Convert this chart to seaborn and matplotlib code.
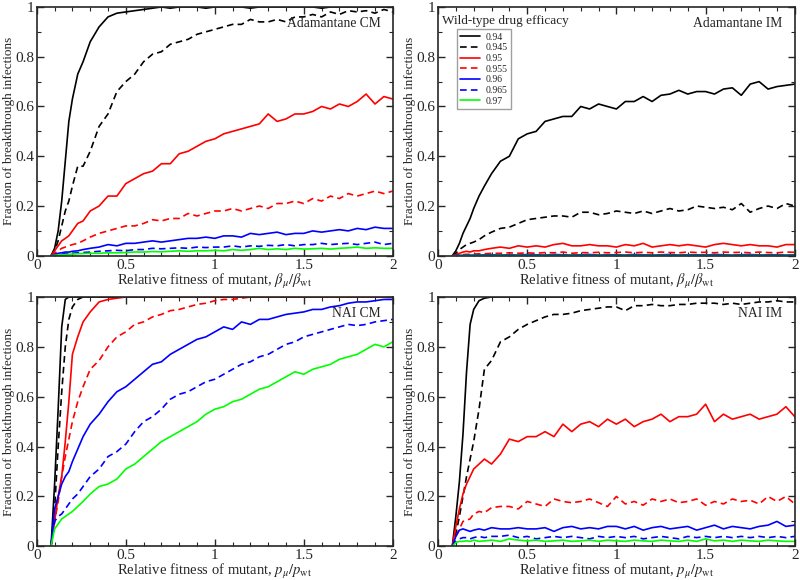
import matplotlib
matplotlib.use("Agg")
import matplotlib.pyplot as plt
from matplotlib.ticker import MultipleLocator, FormatStrFormatter
import seaborn as sns
import pandas as pd

# relative fitness grid (shared by all panels)
fitness = [0.08, 0.10, 0.12, 0.14, 0.16, 0.18, 0.20, 0.23, 0.26, 0.30, 0.35,
           0.40, 0.45, 0.50, 0.55, 0.60, 0.65, 0.70, 0.75, 0.80, 0.85, 0.90, 0.95, 1.00,
           1.05, 1.10, 1.15, 1.20, 1.25, 1.30, 1.35, 1.40, 1.45, 1.50,
           1.55, 1.60, 1.65, 1.70, 1.75, 1.80, 1.85, 1.90, 1.95, 2.00]

efficacy = ["0.94", "0.945", "0.95", "0.955", "0.96", "0.965", "0.97"]

# Adamantane CM
adam_cm_94 = [0.0, 0.03, 0.10, 0.22, 0.38, 0.54, 0.63, 0.73, 0.78, 0.86, 0.92,
              0.96, 0.975, 0.98, 0.985, 0.99, 0.995, 1.0, 0.995, 1.0, 1.0, 1.0, 0.995, 1.0,
              1.0, 1.0, 1.0, 0.995, 1.0, 1.0, 1.0, 1.0, 1.0, 1.0,
              1.0, 0.995, 1.0, 1.0, 1.0, 1.0, 1.0, 1.0, 1.0, 1.0]
adam_cm_945 = [0.0, 0.02, 0.06, 0.12, 0.18, 0.22, 0.28, 0.36, 0.36, 0.42, 0.52,
               0.57, 0.66, 0.70, 0.73, 0.78, 0.81, 0.82, 0.85, 0.86, 0.87, 0.89, 0.90, 0.91,
               0.92, 0.93, 0.93, 0.95, 0.94, 0.94, 0.95, 0.94, 0.96, 0.96,
               0.97, 0.96, 0.98, 0.97, 0.985, 0.98, 0.985, 0.975, 0.99, 0.98]
adam_cm_95 = [0.0, 0.02, 0.04, 0.06, 0.07, 0.08, 0.10, 0.13, 0.14, 0.18, 0.20,
              0.24, 0.24, 0.29, 0.31, 0.33, 0.34, 0.37, 0.37, 0.41, 0.42, 0.44, 0.46, 0.47,
              0.49, 0.50, 0.51, 0.52, 0.53, 0.57, 0.54, 0.55, 0.57, 0.57,
              0.58, 0.60, 0.59, 0.61, 0.60, 0.62, 0.65, 0.61, 0.64, 0.63]
adam_cm_955 = [0.0, 0.01, 0.02, 0.03, 0.035, 0.04, 0.045, 0.05, 0.06, 0.075, 0.09,
               0.10, 0.11, 0.12, 0.12, 0.13, 0.145, 0.14, 0.15, 0.15, 0.17, 0.16, 0.17, 0.18,
               0.18, 0.19, 0.18, 0.19, 0.20, 0.19, 0.21, 0.21, 0.22, 0.21,
               0.23, 0.22, 0.24, 0.23, 0.25, 0.24, 0.25, 0.26, 0.25, 0.26]
adam_cm_96 = [0.0, 0.005, 0.01, 0.012, 0.015, 0.015, 0.018, 0.02, 0.025, 0.03, 0.035,
              0.045, 0.04, 0.05, 0.05, 0.055, 0.06, 0.055, 0.06, 0.065, 0.07, 0.07, 0.075, 0.07,
              0.08, 0.08, 0.075, 0.09, 0.085, 0.09, 0.095, 0.085, 0.09, 0.09,
              0.10, 0.095, 0.10, 0.105, 0.10, 0.11, 0.105, 0.115, 0.11, 0.11]
adam_cm_965 = [0.0, 0.003, 0.005, 0.007, 0.008, 0.01, 0.01, 0.012, 0.013, 0.015, 0.018,
               0.02, 0.022, 0.02, 0.025, 0.025, 0.03, 0.028, 0.03, 0.032, 0.03, 0.035, 0.033, 0.035,
               0.035, 0.04, 0.035, 0.04, 0.038, 0.042, 0.04, 0.045, 0.04, 0.045,
               0.045, 0.05, 0.045, 0.048, 0.05, 0.045, 0.05, 0.055, 0.045, 0.05]
adam_cm_97 = [0.0, 0.002, 0.003, 0.004, 0.005, 0.006, 0.007, 0.008, 0.009, 0.01, 0.01,
              0.012, 0.012, 0.013, 0.015, 0.015, 0.017, 0.016, 0.018, 0.02, 0.018, 0.02, 0.02, 0.022,
              0.02, 0.025, 0.022, 0.025, 0.03, 0.025, 0.028, 0.025, 0.03, 0.027,
              0.028, 0.03, 0.027, 0.03, 0.032, 0.035, 0.03, 0.032, 0.03, 0.03]

# Adamantane IM
adam_im_94 = [0.0, 0.02, 0.05, 0.09, 0.12, 0.15, 0.19, 0.24, 0.28, 0.33, 0.38,
              0.40, 0.47, 0.49, 0.50, 0.54, 0.55, 0.56, 0.56, 0.60, 0.59, 0.61, 0.60, 0.59,
              0.62, 0.62, 0.64, 0.62, 0.645, 0.65, 0.665, 0.65, 0.66, 0.66,
              0.65, 0.67, 0.675, 0.645, 0.69, 0.70, 0.67, 0.68, 0.685, 0.69]
adam_im_945 = [0.0, 0.01, 0.025, 0.035, 0.045, 0.05, 0.055, 0.065, 0.08, 0.095, 0.11,
               0.115, 0.13, 0.145, 0.15, 0.155, 0.16, 0.16, 0.155, 0.175, 0.175, 0.165, 0.17, 0.18,
               0.175, 0.17, 0.18, 0.17, 0.18, 0.19, 0.18, 0.185, 0.20, 0.195,
               0.19, 0.195, 0.185, 0.21, 0.175, 0.19, 0.20, 0.19, 0.21, 0.20]
adam_im_95 = [0.0, 0.005, 0.01, 0.015, 0.018, 0.015, 0.02, 0.02, 0.025, 0.03, 0.035,
              0.03, 0.04, 0.035, 0.04, 0.035, 0.045, 0.05, 0.04, 0.04, 0.045, 0.04, 0.04, 0.035,
              0.045, 0.04, 0.05, 0.035, 0.04, 0.045, 0.04, 0.045, 0.04, 0.035,
              0.045, 0.05, 0.045, 0.04, 0.045, 0.04, 0.04, 0.035, 0.045, 0.045]
adam_im_955 = [0.0, 0.002, 0.004, 0.005, 0.006, 0.006, 0.007, 0.008, 0.008, 0.01, 0.01,
               0.012, 0.01, 0.012, 0.01, 0.013, 0.012, 0.015, 0.01, 0.013, 0.012, 0.014, 0.012, 0.013,
               0.015, 0.012, 0.014, 0.012, 0.015, 0.013, 0.012, 0.015, 0.013, 0.014,
               0.012, 0.015, 0.013, 0.014, 0.012, 0.015, 0.013, 0.012, 0.015, 0.014]
adam_im_96 = [0.0, 0.001, 0.002, 0.002, 0.003, 0.003, 0.003, 0.003, 0.004, 0.004, 0.003,
              0.004, 0.003, 0.005, 0.004, 0.003, 0.005, 0.004, 0.003, 0.004, 0.005, 0.003, 0.004, 0.004,
              0.003, 0.005, 0.004, 0.003, 0.004, 0.005, 0.003, 0.004, 0.004, 0.003,
              0.005, 0.004, 0.003, 0.004, 0.005, 0.003, 0.004, 0.004, 0.003, 0.004]
adam_im_965 = [0.0, 0.001, 0.001, 0.001, 0.002, 0.002, 0.002, 0.002, 0.002, 0.002, 0.002,
               0.003, 0.002, 0.002, 0.003, 0.002, 0.002, 0.003, 0.002, 0.002, 0.003, 0.002, 0.002, 0.003,
               0.002, 0.002, 0.003, 0.002, 0.002, 0.003, 0.002, 0.002, 0.003, 0.002,
               0.002, 0.003, 0.002, 0.002, 0.003, 0.002, 0.002, 0.003, 0.002, 0.002]
adam_im_97 = [0.0, 0.0, 0.0, 0.001, 0.001, 0.001, 0.001, 0.001, 0.001, 0.001, 0.001,
              0.001, 0.001, 0.001, 0.001, 0.001, 0.001, 0.001, 0.001, 0.001, 0.001, 0.001, 0.001, 0.001,
              0.001, 0.001, 0.001, 0.001, 0.001, 0.001, 0.001, 0.001, 0.001, 0.001,
              0.001, 0.001, 0.001, 0.001, 0.001, 0.001, 0.001, 0.001, 0.001, 0.001]

# NAI CM
nai_cm_94 = [0.0, 0.25, 0.55, 0.88, 0.99, 1.0, 1.0, 1.0, 1.0, 1.0, 1.0,
             1.0, 1.0, 1.0, 1.0, 1.0, 1.0, 1.0, 1.0, 1.0, 1.0, 1.0, 1.0, 1.0,
             1.0, 1.0, 1.0, 1.0, 1.0, 1.0, 1.0, 1.0, 1.0, 1.0,
             1.0, 1.0, 1.0, 1.0, 1.0, 1.0, 1.0, 1.0, 1.0, 1.0]
nai_cm_945 = [0.0, 0.15, 0.40, 0.62, 0.80, 0.91, 0.96, 0.99, 1.0, 1.0, 1.0,
              1.0, 1.0, 1.0, 1.0, 1.0, 1.0, 1.0, 1.0, 1.0, 1.0, 1.0, 1.0, 1.0,
              1.0, 1.0, 1.0, 1.0, 1.0, 1.0, 1.0, 1.0, 1.0, 1.0,
              1.0, 1.0, 1.0, 1.0, 1.0, 1.0, 1.0, 1.0, 1.0, 1.0]
nai_cm_95 = [0.0, 0.10, 0.20, 0.28, 0.42, 0.58, 0.77, 0.84, 0.90, 0.94, 0.98,
             0.99, 0.995, 1.0, 1.0, 1.0, 1.0, 1.0, 1.0, 1.0, 1.0, 1.0, 1.0, 1.0,
             1.0, 1.0, 1.0, 1.0, 1.0, 1.0, 1.0, 1.0, 1.0, 1.0,
             1.0, 1.0, 1.0, 1.0, 1.0, 1.0, 1.0, 1.0, 1.0, 1.0]
nai_cm_955 = [0.0, 0.10, 0.18, 0.28, 0.36, 0.43, 0.50, 0.58, 0.64, 0.71, 0.745,
              0.80, 0.84, 0.86, 0.89, 0.90, 0.92, 0.93, 0.945, 0.95, 0.96, 0.97, 0.975, 0.985,
              0.99, 0.99, 0.995, 1.0, 1.0, 1.0, 1.0, 1.0, 1.0, 1.0,
              1.0, 1.0, 1.0, 1.0, 1.0, 1.0, 1.0, 1.0, 1.0, 1.0]
nai_cm_96 = [0.0, 0.15, 0.20, 0.25, 0.28, 0.30, 0.34, 0.39, 0.44, 0.49, 0.53,
             0.58, 0.62, 0.64, 0.67, 0.70, 0.73, 0.74, 0.77, 0.79, 0.81, 0.83, 0.84, 0.86,
             0.88, 0.87, 0.90, 0.89, 0.91, 0.91, 0.92, 0.93, 0.935, 0.94,
             0.95, 0.95, 0.96, 0.965, 0.975, 0.98, 0.98, 0.985, 0.99, 0.99]
nai_cm_965 = [0.0, 0.10, 0.12, 0.13, 0.15, 0.17, 0.19, 0.21, 0.24, 0.28, 0.31,
              0.36, 0.38, 0.41, 0.46, 0.50, 0.52, 0.55, 0.59, 0.61, 0.62, 0.64, 0.66, 0.67,
              0.69, 0.71, 0.73, 0.74, 0.76, 0.77, 0.79, 0.81, 0.82, 0.84,
              0.85, 0.86, 0.87, 0.88, 0.89, 0.885, 0.89, 0.90, 0.905, 0.91]
nai_cm_97 = [0.0, 0.07, 0.09, 0.11, 0.12, 0.13, 0.14, 0.16, 0.18, 0.21, 0.24,
             0.25, 0.27, 0.31, 0.33, 0.36, 0.39, 0.42, 0.44, 0.46, 0.48, 0.50, 0.53, 0.55,
             0.56, 0.58, 0.59, 0.61, 0.63, 0.64, 0.66, 0.68, 0.70, 0.69,
             0.71, 0.72, 0.73, 0.75, 0.76, 0.77, 0.79, 0.81, 0.80, 0.82]

# NAI IM
nai_im_94 = [0.0, 0.12, 0.26, 0.45, 0.70, 0.89, 0.95, 0.985, 0.995, 1.0, 1.0,
             1.0, 1.0, 1.0, 1.0, 1.0, 1.0, 1.0, 1.0, 1.0, 1.0, 1.0, 1.0, 1.0,
             1.0, 1.0, 1.0, 1.0, 1.0, 1.0, 1.0, 1.0, 1.0, 1.0,
             1.0, 1.0, 1.0, 1.0, 1.0, 1.0, 1.0, 1.0, 1.0, 1.0]
nai_im_945 = [0.0, 0.05, 0.12, 0.20, 0.28, 0.35, 0.42, 0.55, 0.71, 0.745, 0.82,
              0.84, 0.87, 0.89, 0.905, 0.92, 0.93, 0.93, 0.935, 0.945, 0.95, 0.955, 0.96, 0.96,
              0.945, 0.965, 0.965, 0.97, 0.965, 0.965, 0.97, 0.97, 0.975, 0.975,
              0.975, 0.97, 0.975, 0.97, 0.975, 0.98, 0.98, 0.985, 0.98, 0.98]
nai_im_95 = [0.0, 0.08, 0.15, 0.21, 0.25, 0.28, 0.31, 0.33, 0.35, 0.33, 0.37,
             0.43, 0.42, 0.44, 0.44, 0.46, 0.44, 0.49, 0.46, 0.49, 0.50, 0.48, 0.51, 0.49,
             0.51, 0.48, 0.50, 0.51, 0.53, 0.50, 0.52, 0.52, 0.53, 0.57,
             0.50, 0.53, 0.51, 0.52, 0.53, 0.51, 0.52, 0.53, 0.56, 0.52]
nai_im_955 = [0.0, 0.04, 0.07, 0.10, 0.105, 0.11, 0.13, 0.14, 0.135, 0.155, 0.16,
              0.16, 0.15, 0.18, 0.17, 0.16, 0.19, 0.18, 0.175, 0.18, 0.19, 0.175, 0.16, 0.20,
              0.17, 0.18, 0.165, 0.19, 0.18, 0.19, 0.175, 0.18, 0.19, 0.165,
              0.18, 0.17, 0.19, 0.18, 0.185, 0.17, 0.20, 0.18, 0.20, 0.17]
nai_im_96 = [0.0, 0.04, 0.065, 0.07, 0.065, 0.06, 0.065, 0.07, 0.065, 0.075, 0.07,
             0.07, 0.075, 0.07, 0.07, 0.075, 0.06, 0.075, 0.08, 0.07, 0.075, 0.07, 0.08, 0.08,
             0.07, 0.08, 0.065, 0.075, 0.08, 0.07, 0.075, 0.08, 0.065, 0.075,
             0.085, 0.07, 0.08, 0.075, 0.07, 0.08, 0.085, 0.10, 0.08, 0.085]
nai_im_965 = [0.0, 0.02, 0.03, 0.035, 0.035, 0.03, 0.035, 0.04, 0.035, 0.04, 0.04,
              0.045, 0.035, 0.04, 0.03, 0.035, 0.04, 0.035, 0.04, 0.035, 0.03, 0.04, 0.035, 0.04,
              0.035, 0.04, 0.03, 0.035, 0.04, 0.035, 0.03, 0.04, 0.035, 0.04,
              0.035, 0.04, 0.035, 0.04, 0.035, 0.04, 0.035, 0.04, 0.035, 0.04]
nai_im_97 = [0.0, 0.015, 0.02, 0.02, 0.022, 0.02, 0.025, 0.02, 0.022, 0.025, 0.02,
             0.03, 0.025, 0.022, 0.025, 0.02, 0.022, 0.025, 0.02, 0.022, 0.025, 0.02, 0.025, 0.022,
             0.02, 0.025, 0.022, 0.02, 0.025, 0.022, 0.02, 0.025, 0.02, 0.03,
             0.022, 0.025, 0.02, 0.025, 0.022, 0.02, 0.025, 0.022, 0.02, 0.02]

palette = {"0.94": "black", "0.945": "black", "0.95": "#ff0000", "0.955": "#ff0000",
           "0.96": "#0000ff", "0.965": "#0000ff", "0.97": "#00ff00"}
dashes = {"0.94": "", "0.945": (4, 2.5), "0.95": "", "0.955": (4, 2.5),
          "0.96": "", "0.965": (4, 2.5), "0.97": ""}

sns.set_style("ticks")
plt.rcParams["font.family"] = ["Liberation Serif", "DejaVu Serif"]
plt.rcParams["mathtext.fontset"] = "stix"


def make_frame(series):
    rows = []
    for eff, vals in zip(efficacy, series):
        for xv, yv in zip(fitness, vals):
            rows.append({"x": xv, "frac": yv, "eff": eff})
    return pd.DataFrame(rows)


def draw_panel(ax, series, name, xlabel, legend=False):
    df = make_frame(series)
    sns.lineplot(data=df, x="x", y="frac", hue="eff", style="eff",
                 hue_order=efficacy, style_order=efficacy,
                 palette=palette, dashes=dashes, estimator=None,
                 linewidth=1.2, ax=ax, legend="full" if legend else False)
    ax.set_xlim(0, 2)
    ax.set_ylim(0, 1)
    ax.xaxis.set_major_locator(MultipleLocator(0.5))
    ax.xaxis.set_minor_locator(MultipleLocator(0.1))
    ax.yaxis.set_major_locator(MultipleLocator(0.2))
    ax.yaxis.set_minor_locator(MultipleLocator(0.1))
    ax.xaxis.set_major_formatter(FormatStrFormatter("%g"))
    ax.yaxis.set_major_formatter(FormatStrFormatter("%g"))
    ax.tick_params(which="both", direction="in", top=True, right=True,
                   labelsize=11, pad=2)
    ax.tick_params(which="major", length=5, width=1)
    ax.tick_params(which="minor", length=3, width=0.8)
    for sp in ax.spines.values():
        sp.set_linewidth(1.2)
    ax.set_xlabel(xlabel, fontsize=10.5, labelpad=0)
    ax.set_ylabel("Fraction of breakthrough infections", fontsize=9.5)
    ax.yaxis.set_label_coords(-0.062, 0.5)
    ax.text(0.965, 0.935, name, transform=ax.transAxes, ha="right", va="center",
            fontsize=9.8)
    if legend:
        handles, labels = ax.get_legend_handles_labels()
        ax.text(0.01, 0.945, "Wild-type drug efficacy", transform=ax.transAxes,
                ha="left", va="center", fontsize=9.5)
        leg = ax.legend(handles, labels, loc="upper left",
                        bbox_to_anchor=(0.053, 0.91), fontsize=7,
                        frameon=True, fancybox=False, handlelength=2.0,
                        labelspacing=0.17, borderpad=0.35, handletextpad=0.6,
                        borderaxespad=0)
        leg.get_frame().set_edgecolor("#888888")
        leg.get_frame().set_linewidth(1)


fig = plt.figure(figsize=(8, 5.8), dpi=100)
ax1 = fig.add_axes([0.046, 0.559, 0.445, 0.429])
ax2 = fig.add_axes([0.5475, 0.559, 0.446, 0.429])
ax3 = fig.add_axes([0.046, 0.058, 0.445, 0.430])
ax4 = fig.add_axes([0.5475, 0.058, 0.446, 0.430])

beta_label = r"Relative fitness of mutant, $\beta_{\mu}/\beta_{\rm wt}$"
p_label = r"Relative fitness of mutant, $p_{\mu}/p_{\rm wt}$"

draw_panel(ax1, [adam_cm_94, adam_cm_945, adam_cm_95, adam_cm_955,
                 adam_cm_96, adam_cm_965, adam_cm_97], "Adamantane CM", beta_label)
draw_panel(ax2, [adam_im_94, adam_im_945, adam_im_95, adam_im_955,
                 adam_im_96, adam_im_965, adam_im_97], "Adamantane IM", beta_label,
           legend=True)
draw_panel(ax3, [nai_cm_94, nai_cm_945, nai_cm_95, nai_cm_955,
                 nai_cm_96, nai_cm_965, nai_cm_97], "NAI CM", p_label)
draw_panel(ax4, [nai_im_94, nai_im_945, nai_im_95, nai_im_955,
                 nai_im_96, nai_im_965, nai_im_97], "NAI IM", p_label)

fig.savefig("out.png", dpi=100)
